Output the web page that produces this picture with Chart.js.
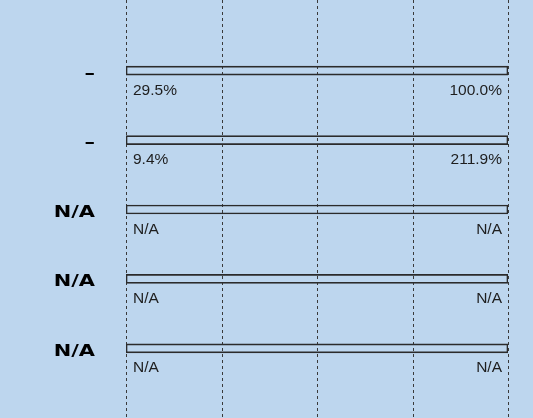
<!DOCTYPE html>
<html>
<head>
<meta charset="utf-8">
<script src="https://cdn.jsdelivr.net/npm/chart.js@4.4.1/dist/chart.umd.min.js"></script>
<style>
  html, body { margin: 0; padding: 0; background: #bdd6ee; }
  #wrap { width: 533px; height: 418px; }
</style>
</head>
<body>
<div id="wrap"><canvas id="progressChart"></canvas></div>
<script>
const categories = ["\u2013", "\u2013", "N/A", "N/A", "N/A"];
const barValues = [1, 1, 1, 1, 1];
const startLabels = ["29.5%", "9.4%", "N/A", "N/A", "N/A"];
const endLabels = ["100.0%", "211.9%", "N/A", "N/A", "N/A"];
const gridTicks = [0, 0.25, 0.5, 0.75, 1];

// dashed vertical lines running the full height of the canvas
const fullGrid = {
  id: "fullGrid",
  beforeDatasetsDraw(chart) {
    const ctx = chart.ctx;
    const x = chart.scales.x;
    ctx.save();
    ctx.strokeStyle = "#3a3a3a";
    ctx.lineWidth = 1;
    ctx.setLineDash([3, 3]);
    gridTicks.forEach((t) => {
      const px = Math.round(x.getPixelForValue(t)) + 0.5;
      ctx.beginPath();
      ctx.moveTo(px, 0);
      ctx.lineTo(px, chart.height);
      ctx.stroke();
    });
    ctx.restore();
  },
};

// category names on the left (wide bold) and small labels under each bar
const barLabels = {
  id: "barLabels",
  afterDatasetsDraw(chart) {
    const ctx = chart.ctx;
    const meta = chart.getDatasetMeta(0);
    const x = chart.scales.x;
    const left = x.getPixelForValue(0);
    ctx.save();
    ctx.font = "15.5px 'Liberation Sans', Arial, sans-serif";
    ctx.fillStyle = "#1e1e1e";
    ctx.textBaseline = "alphabetic";
    meta.data.forEach((bar, i) => {
      const y = bar.y + 24;
      ctx.textAlign = "left";
      ctx.fillText(startLabels[i], left + 7, y);
      ctx.textAlign = "right";
      ctx.fillText(endLabels[i], x.getPixelForValue(barValues[i]) - 6, y);
    });
    ctx.restore();

    ctx.save();
    ctx.font = "bold 15.5px 'DejaVu Sans', Verdana, sans-serif";
    ctx.fillStyle = "#000";
    ctx.textAlign = "right";
    ctx.textBaseline = "alphabetic";
    meta.data.forEach((bar, i) => {
      ctx.save();
      ctx.translate(left - 31, bar.y + 7.3);
      ctx.scale(1.35, 1);
      ctx.fillText(categories[i], 0, 0);
      ctx.restore();
    });
    ctx.restore();
  },
};

const progressConfig = {
  type: "bar",
  data: {
    labels: categories,
    datasets: [
      {
        data: barValues,
        backgroundColor: "rgba(0,0,0,0)",
        borderColor: "#2b2b2b",
        borderWidth: 1,
        borderSkipped: false,
        barThickness: 9,
      },
    ],
  },
  options: {
    indexAxis: "y",
    responsive: true,
    maintainAspectRatio: false,
    animation: false,
    layout: { padding: { top: 36, bottom: 35, right: 25, left: 0 } },
    plugins: {
      legend: { display: false },
      tooltip: { enabled: false },
    },
    scales: {
      x: {
        min: 0,
        max: 1,
        display: false,
      },
      y: {
        afterFit(scale) {
          scale.width = 126;
          scale.paddingTop = 0;
          scale.paddingBottom = 0;
        },
        grid: { display: false, drawTicks: false },
        border: { display: false },
        ticks: { display: false },
      },
    },
  },
  plugins: [fullGrid, barLabels],
};

const progressChart = new Chart(document.getElementById("progressChart"), progressConfig);
</script>
</body>
</html>
